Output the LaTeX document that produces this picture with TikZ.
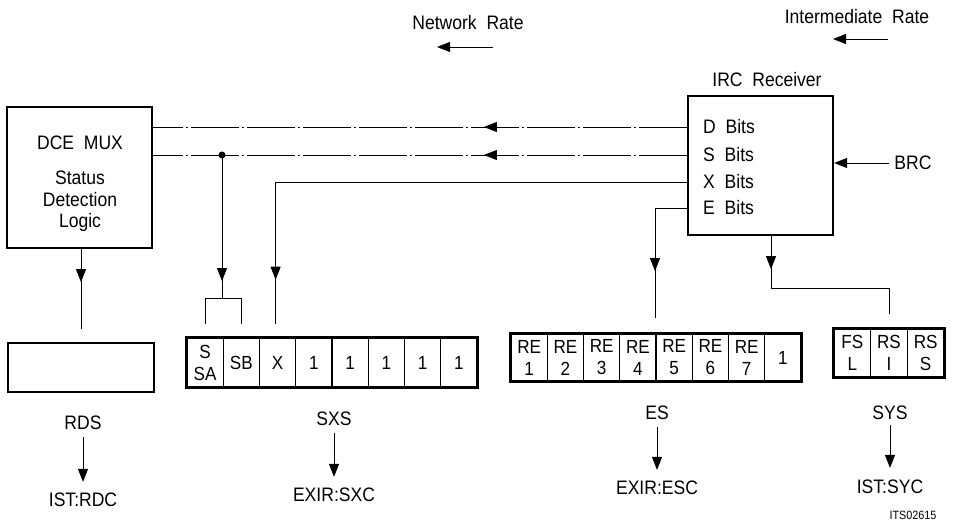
\documentclass[tikz,border=0pt]{standalone}
\usepackage{fontspec}
\setmainfont{Liberation Sans}[FakeStretch=0.9]
\usetikzlibrary{arrows.meta,decorations.markings}
\begin{document}
\begin{tikzpicture}[x=1pt,y=-1pt,
  txt/.style={font=\fontsize{19.5}{22}\selectfont, inner sep=0pt},
  bigbox/.style={draw, line width=2.2pt, inner sep=0pt},
  conn/.style={line width=0.9pt},
  arr/.style={conn,-{Triangle[width=10pt,length=13pt]}},
  dline/.style={conn,dash pattern=on 48pt off 3pt on 2pt off 3pt},
  cell/.style={draw,line width=1.2pt,inner sep=0pt,align=center,
    font=\fontsize{19}{22}\selectfont},
  outer/.style={draw,line width=2.2pt},
  midarrow/.style={postaction={decorate,decoration={markings,
    mark=at position #1 with {\arrow{Triangle[width=10pt,length=13pt]}}}}}
]
\useasboundingbox (0,0) rectangle (956,524);

% ---------- DCE MUX ----------
\node[bigbox, minimum width=145pt, minimum height=141pt] (dce) at (79.5,177.5) {};
\node[txt] (dcet1) at (80,143) {DCE\ \ MUX};
\node[txt] (dcet2) at (80,178) {Status};
\node[txt] (dcet3) at (80,200) {Detection};
\node[txt] (dcet4) at (80,222) {Logic};

% ---------- IRC Receiver ----------
\node[bigbox, minimum width=145pt, minimum height=139pt] (irc) at (760.5,165.5) {};
\node[txt] (irclbl) at (767,80) {IRC\ \ Receiver};
\node[txt,anchor=west] (dbits) at (703,127) {D\ \ Bits};
\node[txt,anchor=west] (sbits) at (703,155) {S\ \ Bits};
\node[txt,anchor=west] (xbits) at (703,182) {X\ \ Bits};
\node[txt,anchor=west] (ebits) at (703,208) {E\ \ Bits};

% ---------- rate labels ----------
\node[txt] (netrate) at (468,23) {Network\ \ Rate};
\coordinate (nrA) at (493,47);
\coordinate (nrB) at (437,47);
\draw[arr] (nrA) -- (nrB);
\node[txt] (intrate) at (857,17) {Intermediate\ \ Rate};
\coordinate (irA) at (888,39);
\coordinate (irB) at (833,39);
\draw[arr] (irA) -- (irB);

% BRC
\node[txt] (brc) at (913,163) {BRC};
\draw[arr, shorten <=5pt] (brc) -- (irc.east |- brc);

% ---------- RDS register ----------
\node[outer, minimum width=146pt, minimum height=49pt, inner sep=0pt] (rds) at (81,367.5) {};
\node[txt] (rdslbl) at (83,423) {RDS};
\node[txt] (istrdc) at (83,500) {IST:RDC};
\draw[arr, shorten <=7pt, shorten >=11pt] (rdslbl) -- (istrdc);

% ---------- SXS register ----------
\foreach \i/\t in {1/{S\\SA},2/SB,3/X,4/1,5/1,6/1,7/1,8/1}{
  \node[cell, minimum width=36.25pt, minimum height=49pt]
    (sxs\i) at ({187+36.25*(\i-0.5)},362.5) {\t};
}
\draw[outer] (sxs1.north west) rectangle (sxs8.south east);
\node[txt] (sxslbl) at (334,419) {SXS};
\node[txt] (exirsxc) at (334,495) {EXIR:SXC};
\draw[arr, shorten <=7pt, shorten >=11pt] (sxslbl) -- (exirsxc);

% ---------- ES register ----------
\foreach \i/\t in {1/{RE\\1},2/{RE\\2},3/{RE\\3},4/{RE\\4},5/{RE\\5},6/{RE\\6},7/{RE\\7},8/1}{
  \node[cell, minimum width=36.25pt, minimum height=47pt]
    (es\i) at ({511+36.25*(\i-0.5)},357.5) {\t};
}
\draw[outer] (es1.north west) rectangle (es8.south east);
\node[txt] (eslbl) at (657,413) {ES};
\node[txt] (exiresc) at (657,488) {EXIR:ESC};
\draw[arr, shorten <=7pt, shorten >=11pt] (eslbl) -- (exiresc);

% ---------- SYS register ----------
\foreach \i/\t in {1/{FS\\L},2/{RS\\I},3/{RS\\S}}{
  \node[cell, minimum width=36.67pt, minimum height=48pt]
    (sys\i) at ({834+36.67*(\i-0.5)},353) {\t};
}
\draw[outer] (sys1.north west) rectangle (sys3.south east);
\node[txt] (syslbl) at (890,413) {SYS};
\node[txt] (istsyc) at (890,487) {IST:SYC};
\draw[arr, shorten <=5pt, shorten >=12pt] (syslbl) -- (istsyc);

\node[font=\fontsize{12}{14}\selectfont, inner sep=0pt] (its) at (913,515) {ITS02615};

% ---------- connectors ----------
% D bits and S bits to DCE MUX
\draw[dline, midarrow=203pt] (irc.west |- dbits) -- (dce.east |- dbits);
\draw[dline, midarrow=203pt] (irc.west |- sbits) -- (dce.east |- sbits);
% junction dot
\node[circle, fill, inner sep=0pt, minimum size=7pt] (dot) at (222,0 |- sbits) {};
% bracket over S/SA and SB
\coordinate (brL) at ([yshift=39pt]sxs1.north);
\coordinate (brR) at ([yshift=39pt]sxs2.north);
\draw[conn] ([yshift=13pt]sxs1.north) -- (brL) -- (brR) -- ([yshift=13pt]sxs2.north);
\draw[conn, midarrow=126pt] (dot.center) -- (dot |- brL);
% X bits to X cell
\coordinate (xend) at ([yshift=13pt,xshift=-2pt]sxs3.north);
\draw[conn, midarrow=509pt] (irc.west |- xbits) -| (xend);
% DCE MUX to RDS
\draw[conn, midarrow=33pt] (dce.south -| rds.north) -- ([yshift=13pt]rds.north);
% E bits to ES register
\coordinate (eend) at (655,318);
\draw[conn, midarrow=95pt] (irc.west |- ebits) -| (eend);
% IRC to SYS register
\coordinate (ybend) at (771,288);
\coordinate (yend) at ([yshift=14pt]sys2.north);
\draw[conn, midarrow=33pt] (irc.south -| ybend) -- (ybend) -| (yend);
\end{tikzpicture}
\end{document}
